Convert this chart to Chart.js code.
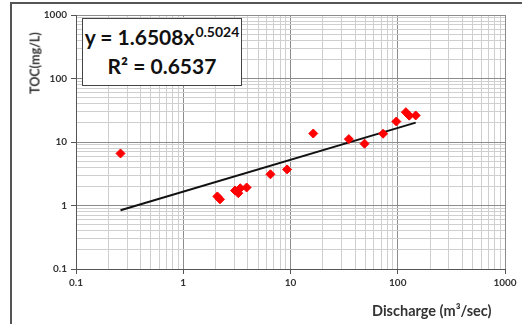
<!DOCTYPE html>
<html>
<head>
<meta charset="utf-8">
<script src="https://cdn.jsdelivr.net/npm/chart.js@4/dist/chart.umd.min.js"></script>
<style>
  body { margin: 0; background: #fff; }
  #wrap { position: relative; width: 522px; height: 324px; overflow: hidden; font-family: Lato, "Open Sans", sans-serif; }
  #frame { position: absolute; left: 10px; top: 2px; width: 530px; height: 340px; border-left: 2px solid #555; border-top: 2px solid #555; }
  #eq { position: absolute; left: 82px; top: 18px; width: 158px; height: 63px; background: #fff; border: 1.5px solid #444;
        color: #111; font-weight: bold; text-align: center; font-size: 21px; line-height: 29px; padding-top: 3px; }
  #eq sup { font-size: 14px; position: relative; top: -8px; vertical-align: baseline; line-height: 0; margin-left: 1px; }
  #ytitle { position: absolute; left: 35px; top: 63px; transform: translate(-50%, -50%) rotate(-90deg); white-space: nowrap;
            font-weight: bold; font-size: 12.5px; color: #333; }
  #xtitle { position: absolute; left: 372px; top: 302px; white-space: nowrap; font-weight: bold; font-size: 14.5px; color: #333; }
</style>
</head>
<body>
<div id="wrap">
  <canvas id="scatterChart" width="522" height="324"></canvas>
  <div id="frame"></div>
  <div id="eq">y = 1.6508x<sup>0.5024</sup><br>R² = 0.6537</div>
  <div id="ytitle">TOC(mg/L)</div>
  <div id="xtitle">Discharge (m³/sec)</div>
</div>
<script>
// discharge (m3/sec) vs TOC (mg/L)
var discharge = [0.26, 2.08, 2.2, 3.04, 3.26, 3.4, 3.9, 6.5, 9.3, 16.3, 35, 49, 73, 97, 119, 128, 147];
var toc       = [6.6, 1.39, 1.25, 1.72, 1.56, 1.87, 1.92, 3.1, 3.7, 13.6, 11.1, 9.4, 13.5, 21, 29.5, 26, 26.2];

// power trend line end points
var trendX = [0.26, 147];
var trendY = [0.84, 20.2];

var tickLabels = ['0.1', '1', '10', '100', '1000'];
var axisMin = 0.1;
var axisMax = 1000;

function logTicks(scale) {
  var ticks = [];
  for (var e = -1; e < 3; e++) {
    for (var s = 1; s < 10; s++) {
      ticks.push({ value: s * Math.pow(10, e) });
    }
  }
  ticks.push({ value: 1000 });
  scale.ticks = ticks;
}

function isMajor(v) {
  var l = Math.log10(v);
  return Math.abs(l - Math.round(l)) < 1e-6;
}

function tickText(value) {
  if (!isMajor(value)) return '';
  var idx = Math.round(Math.log10(value)) + 1;
  return tickLabels[idx];
}

var points = [];
for (var i = 0; i < discharge.length; i++) {
  points.push({ x: discharge[i], y: toc[i] });
}
var trend = [];
for (var j = 0; j < trendX.length; j++) {
  trend.push({ x: trendX[j], y: trendY[j] });
}

function gridOpts() {
  return {
    color: function (ctx) { return ctx.tick && isMajor(ctx.tick.value) ? '#8c8c8c' : '#cfcfcf'; },
    tickColor: function (ctx) { return ctx.tick && isMajor(ctx.tick.value) ? '#555' : 'rgba(0,0,0,0)'; },
    tickLength: 5,
    lineWidth: 1
  };
}

var tickFont = { family: 'Lato, "Open Sans", sans-serif', size: 10, weight: 'bold' };

new Chart(document.getElementById('scatterChart').getContext('2d'), {
  type: 'scatter',
  data: {
    datasets: [
      {
        label: 'Trend',
        data: trend,
        showLine: true,
        borderColor: '#111',
        borderWidth: 2,
        pointRadius: 0,
        order: 2
      },
      {
        label: 'TOC',
        data: points,
        pointStyle: 'rectRot',
        pointRadius: 4.5,
        backgroundColor: '#ff0000',
        borderColor: '#ff0000',
        borderWidth: 1,
        order: 1
      }
    ]
  },
  options: {
    responsive: false,
    animation: false,
    layout: { padding: { left: 0, top: 15, right: 17, bottom: 0 } },
    plugins: { legend: { display: false }, tooltip: { enabled: false } },
    scales: {
      x: {
        type: 'logarithmic',
        min: axisMin,
        max: axisMax,
        afterBuildTicks: logTicks,
        afterFit: function (scale) { scale.height = 55; },
        grid: gridOpts(),
        border: { color: '#555', width: 1 },
        ticks: { autoSkip: false, maxRotation: 0, padding: 3, color: '#333', font: tickFont, callback: tickText }
      },
      y: {
        type: 'logarithmic',
        min: axisMin,
        max: axisMax,
        afterBuildTicks: logTicks,
        afterFit: function (scale) { scale.width = 76; },
        grid: gridOpts(),
        border: { color: '#555', width: 1 },
        ticks: { autoSkip: false, padding: 4, color: '#333', font: tickFont, callback: tickText }
      }
    }
  }
});
</script>
</body>
</html>
